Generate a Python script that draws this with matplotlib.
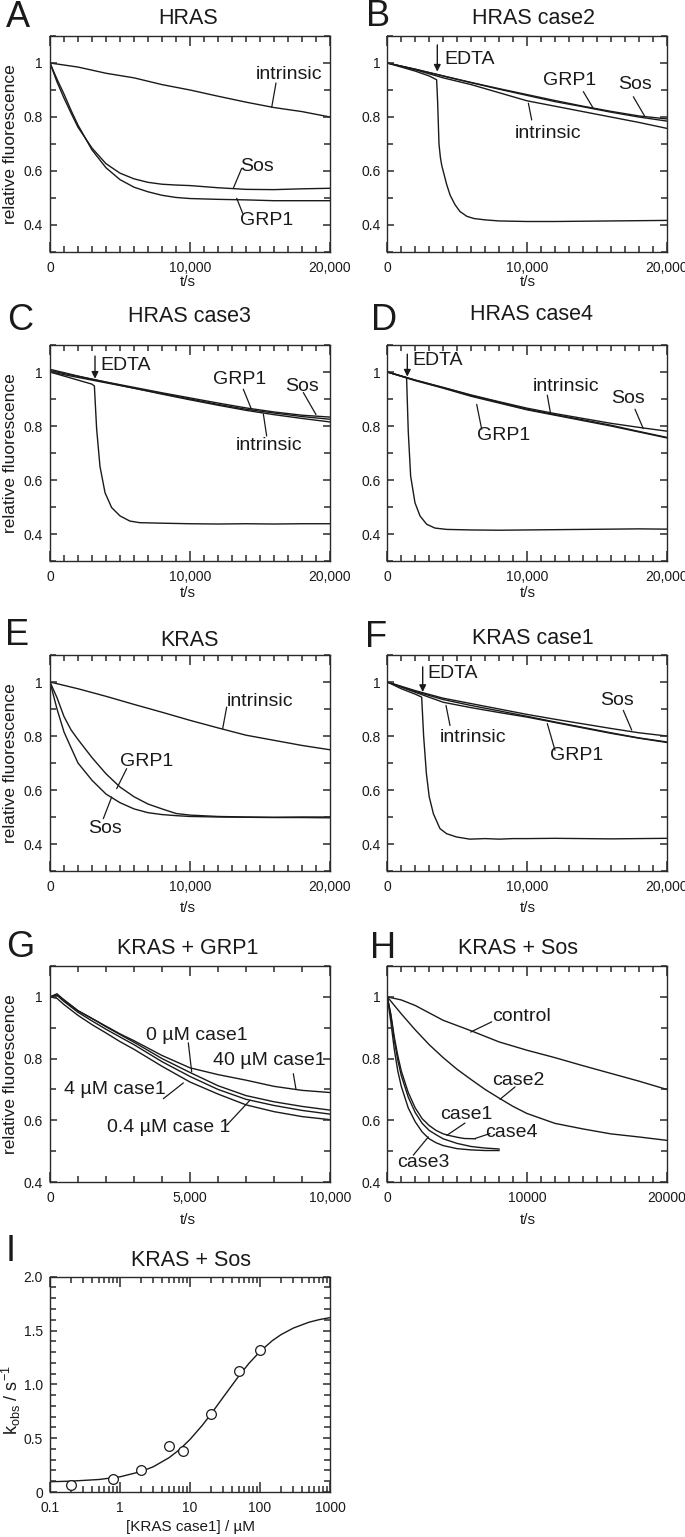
import matplotlib
matplotlib.use("Agg")
import matplotlib.pyplot as plt
from matplotlib.ticker import MultipleLocator, FixedLocator, FuncFormatter, LogLocator, NullFormatter

plt.rcParams['font.family'] = ['Liberation Sans', 'DejaVu Sans']
plt.rcParams['mathtext.fontset'] = 'custom'
plt.rcParams['mathtext.rm'] = 'Liberation Sans'
plt.rcParams['mathtext.it'] = 'Liberation Sans:italic'

# ---------------- data ----------------
t_slow = [0, 2000, 4000, 6000, 8000, 10000, 12000, 14000, 16000, 18000, 20000]
t_fast = [0, 500, 1000, 1500, 2000, 3000, 4000, 5000, 6000, 7000, 8000, 9000,
          10000, 12000, 14000, 16000, 18000, 20000]

# A  HRAS
a_intrinsic = [1.0, 0.985, 0.962, 0.945, 0.92, 0.9, 0.877, 0.855, 0.835, 0.82, 0.80]
a_sos = [1.0, 0.93, 0.87, 0.815, 0.762, 0.685, 0.627, 0.592, 0.571, 0.558, 0.551, 0.548,
         0.546, 0.538, 0.532, 0.531, 0.534, 0.536]
a_grp1 = [1.0, 0.94, 0.885, 0.825, 0.77, 0.678, 0.612, 0.568, 0.54, 0.523, 0.51, 0.502,
          0.498, 0.495, 0.493, 0.49, 0.49, 0.49]

# B  HRAS case2
b_sos = [1.0, 0.977, 0.952, 0.928, 0.905, 0.883, 0.861, 0.84, 0.821, 0.804, 0.793]
b_grp1 = [1.0, 0.977, 0.952, 0.927, 0.903, 0.88, 0.857, 0.838, 0.818, 0.80, 0.785]
b_intrinsic = [1.0, 0.975, 0.945, 0.92, 0.89, 0.86, 0.84, 0.82, 0.80, 0.78, 0.758]
b_edta_t = [0, 1000, 2000, 3000, 3530, 3600, 3700, 3800, 3900, 4000, 4250, 4500, 4850,
            5200, 5700, 6200, 7000, 8000, 10000, 12000, 14000, 16000, 18000, 20000]
b_edta = [1.0, 0.985, 0.97, 0.952, 0.938, 0.86, 0.70, 0.65, 0.62, 0.60, 0.55, 0.51, 0.475,
          0.45, 0.432, 0.424, 0.419, 0.415, 0.413, 0.413, 0.414, 0.415, 0.416, 0.417]

# C  HRAS case3
c_sos = [1.005, 0.984, 0.963, 0.943, 0.923, 0.904, 0.885, 0.867, 0.852, 0.84, 0.833]
c_grp1 = [1.0, 0.98, 0.96, 0.94, 0.92, 0.9, 0.88, 0.862, 0.848, 0.835, 0.825]
c_intrinsic = [1.01, 0.985, 0.962, 0.94, 0.918, 0.897, 0.877, 0.858, 0.842, 0.828, 0.815]
c_edta_t = [0, 1000, 2000, 3000, 3170, 3330, 3570, 3930, 4400, 5000, 5700, 6400, 8000,
            10000, 12000, 14000, 16000, 18000, 20000]
c_edta = [1.0, 0.985, 0.97, 0.955, 0.948, 0.79, 0.65, 0.553, 0.498, 0.467, 0.448, 0.442,
          0.44, 0.438, 0.437, 0.438, 0.437, 0.438, 0.438]

# D  HRAS case4
d_sos = [1.0, 0.97, 0.943, 0.915, 0.89, 0.866, 0.846, 0.828, 0.81, 0.795, 0.781]
d_grp1 = [1.0, 0.968, 0.94, 0.91, 0.885, 0.86, 0.84, 0.82, 0.80, 0.778, 0.756]
d_intrinsic = [1.0, 0.97, 0.942, 0.913, 0.888, 0.862, 0.842, 0.823, 0.803, 0.78, 0.758]
d_edta_t = [0, 700, 1380, 1500, 1670, 1980, 2340, 2820, 3410, 4250, 6000, 8000, 10000,
            12000, 14000, 16000, 18000, 20000]
d_edta = [1.0, 0.99, 0.979, 0.78, 0.615, 0.516, 0.467, 0.436, 0.422, 0.417, 0.415,
          0.414, 0.415, 0.416, 0.417, 0.418, 0.419, 0.418]

# E  KRAS
e_intrinsic = [1.0, 0.975, 0.947, 0.917, 0.888, 0.858, 0.83, 0.803, 0.784, 0.765, 0.749]
e_grp1 = [1.0, 0.942, 0.872, 0.823, 0.787, 0.72, 0.66, 0.611, 0.575, 0.548, 0.53, 0.513,
          0.507, 0.502, 0.50, 0.499, 0.50, 0.50]
e_sos = [1.0, 0.90, 0.815, 0.757, 0.70, 0.636, 0.585, 0.553, 0.53, 0.516, 0.509, 0.505,
         0.502, 0.50, 0.499, 0.498, 0.498, 0.497]

# F  KRAS case1
f_sos = [1.0, 0.968, 0.94, 0.92, 0.90, 0.88, 0.862, 0.845, 0.828, 0.812, 0.80]
f_grp1 = [1.0, 0.965, 0.935, 0.913, 0.893, 0.873, 0.852, 0.832, 0.812, 0.793, 0.778]
f_intrinsic = [1.0, 0.962, 0.925, 0.905, 0.887, 0.87, 0.85, 0.83, 0.81, 0.792, 0.776]
f_edta_t = [0, 1000, 2000, 2460, 2600, 2800, 3000, 3300, 3770, 4250, 4960, 5900, 7000,
            8000, 9000, 10000, 12000, 14000, 16000, 18000, 20000]
f_edta = [1.0, 0.975, 0.955, 0.944, 0.80, 0.66, 0.575, 0.512, 0.457, 0.438, 0.426, 0.418,
          0.42, 0.418, 0.42, 0.42, 0.421, 0.42, 0.419, 0.42, 0.421]

# G  KRAS + GRP1
g_t = [0, 250, 500, 1000, 1500, 2000, 2500, 3000, 4000, 5000, 6000, 7000, 8000, 9000, 10000]
g_0uM = [1.0, 1.01, 0.99, 0.955, 0.93, 0.903, 0.878, 0.853, 0.80, 0.755, 0.712, 0.68,
         0.66, 0.645, 0.633]
g_04uM = [1.0, 1.005, 0.985, 0.95, 0.922, 0.895, 0.87, 0.845, 0.79, 0.742, 0.70, 0.668,
          0.648, 0.632, 0.62]
g_4uM = [1.0, 0.995, 0.975, 0.94, 0.91, 0.883, 0.855, 0.83, 0.775, 0.724, 0.685, 0.65,
         0.628, 0.612, 0.602]
g_40uM = [1.0, 1.005, 0.99, 0.955, 0.93, 0.905, 0.88, 0.858, 0.81, 0.77, 0.748, 0.73,
          0.71, 0.697, 0.69]

# H  KRAS + Sos
h_control_t = [0, 1000, 2000, 4000, 6000, 8000, 10000, 12000, 14000, 16000, 18000, 20000]
h_control = [1.0, 0.99, 0.972, 0.924, 0.89, 0.854, 0.827, 0.803, 0.777, 0.752, 0.727, 0.70]
h_case2_t = [0, 1000, 2000, 3000, 4000, 5000, 6000, 7000, 8000, 9000, 10000, 12000, 14000,
             16000, 18000, 20000]
h_case2 = [1.0, 0.945, 0.893, 0.845, 0.803, 0.765, 0.732, 0.70, 0.672, 0.645, 0.622, 0.59,
           0.572, 0.556, 0.546, 0.535]
h_fast_t = [0, 250, 500, 750, 1000, 1500, 2000, 2500, 3000, 3500, 4000, 5000, 6000, 7000, 8000]
h_case1 = [1.0, 0.94, 0.86, 0.795, 0.745, 0.675, 0.625, 0.59, 0.567, 0.553, 0.54, 0.525,
           0.515, 0.51, 0.507]
h_case3 = [1.0, 0.92, 0.83, 0.76, 0.71, 0.64, 0.595, 0.562, 0.54, 0.527, 0.518, 0.508,
           0.504, 0.502, 0.502]
h_case4_t = [0, 250, 500, 750, 1000, 1500, 2000, 2500, 3000, 3500, 4000, 4500, 5000, 5500, 6300]
h_case4 = [1.0, 0.945, 0.87, 0.81, 0.76, 0.69, 0.64, 0.605, 0.583, 0.567, 0.556, 0.55,
           0.545, 0.541, 0.54]

# I  KRAS + Sos, kobs vs [KRAS case1]
i_conc = [0.2, 0.8, 2, 5, 8, 20, 50, 100]
i_kobs = [0.068, 0.123, 0.207, 0.429, 0.377, 0.725, 1.123, 1.315]
i_fit_conc = [0.1, 0.2, 0.5, 1, 2, 3, 5, 7, 10, 15, 20, 30, 50, 70, 100, 150, 200, 300,
              500, 700, 1000]
i_fit_kobs = [0.095, 0.101, 0.116, 0.141, 0.19, 0.235, 0.318, 0.391, 0.488, 0.62, 0.725,
              0.883, 1.079, 1.197, 1.305, 1.406, 1.462, 1.523, 1.577, 1.601, 1.62]

# ---------------- layout ----------------
W, H = 685, 1537
fig = plt.figure(figsize=(W / 100, H / 100), dpi=100)
LC = '#1a1a1a'
SC = '#2a2a2a'
TXT = '#1a1a1a'
ANN_FS = 14
TICK_FS = 10
LW = 1.0


def add_ax(left, top, w, h):
    return fig.add_axes([left / W, 1 - (top + h) / H, w / W, h / H])


def ftext(x, y, s, **kw):
    kw.setdefault('ha', 'center')
    kw.setdefault('va', 'center')
    kw.setdefault('color', TXT)
    fig.text(x / W, 1 - y / H, s, **kw)


def style_common(ax):
    for sp in ax.spines.values():
        sp.set_color(SC)
        sp.set_linewidth(1.0)
        sp.set_zorder(5)
    ax.xaxis.set_tick_params(which='both', direction='in', top=True, bottom=True,
                             color=SC, labelcolor=TXT, width=1.1)
    ax.yaxis.set_tick_params(which='both', direction='in', left=True, right=True,
                             color=SC, labelcolor=TXT, width=1.1)
    ax.xaxis.set_tick_params(which='major', length=7, pad=6.5, labelsize=TICK_FS)
    ax.xaxis.set_tick_params(which='minor', length=4.2)
    ax.yaxis.set_tick_params(which='major', length=5, pad=5, labelsize=TICK_FS)
    ax.yaxis.set_tick_params(which='minor', length=4.2)
    ax.set_axisbelow(False)
    for t in ax.xaxis.get_major_ticks() + ax.xaxis.get_minor_ticks() + \
            ax.yaxis.get_major_ticks() + ax.yaxis.get_minor_ticks():
        t.tick1line.set_zorder(6)
        t.tick2line.set_zorder(6)


def time_axis(ax, xmax, xmajor, xlabels, ymin):
    ax.set_xlim(0, xmax)
    ax.set_ylim(ymin, 1.1)
    ax.set_xticks(xmajor)
    ax.set_xticklabels(xlabels)
    ax.xaxis.set_minor_locator(MultipleLocator(1000))
    ax.yaxis.set_major_locator(FixedLocator([0.4, 0.6, 0.8, 1.0]))
    ax.yaxis.set_minor_locator(MultipleLocator(0.1))
    ax.yaxis.set_major_formatter(FuncFormatter(lambda v, p: '1' if abs(v - 1) < 1e-9 else f'{v:.1f}'))
    style_common(ax)


def label(ax, s, txy, start, end):
    ax.text(txy[0], txy[1], s, ha='center', va='center', fontsize=ANN_FS, color=TXT)
    ax.annotate('', xy=end, xytext=start,
                arrowprops=dict(arrowstyle='-', color=LC, lw=0.9, shrinkA=0, shrinkB=0))


def edta(ax, txt_xy, t_arrow, v_top, v_bot):
    ax.text(txt_xy[0], txt_xy[1], 'EDTA', ha='left', va='center', fontsize=ANN_FS, color=TXT)
    ax.annotate('', xy=(t_arrow, v_bot), xytext=(t_arrow, v_top),
                arrowprops=dict(arrowstyle='-|>', color=LC, lw=1.0, shrinkA=0, shrinkB=0,
                                mutation_scale=10))


def line(ax, x, y):
    ax.plot(x, y, color=LC, lw=LW, solid_joinstyle='round')


L, R = 50, 387.3
WL, WR = 280, 279.4
AH = 216
TOPS = [36, 345, 655, 966, 1276.7]

t20_ticks = [0, 10000, 20000]
t20_labels = ['0', '10,000', '20,000']

# ---- A
ax = add_ax(L, TOPS[0], WL, AH)
line(ax, t_slow, a_intrinsic)
line(ax, t_fast, a_sos)
line(ax, t_fast, a_grp1)
time_axis(ax, 20000, t20_ticks, t20_labels, 0.3)
label(ax, 'intrinsic', (17071, 0.959), (16143, 0.926), (15836, 0.836))
label(ax, 'Sos', (14764, 0.616), (13693, 0.610), (13093, 0.536))
label(ax, 'GRP1', (15479, 0.418), (13764, 0.443), (13336, 0.499))

# ---- B
ax = add_ax(R, TOPS[0], WR, AH)
line(ax, t_slow, b_sos)
line(ax, t_slow, b_grp1)
line(ax, t_slow, b_intrinsic)
line(ax, b_edta_t, b_edta)
time_axis(ax, 20000, t20_ticks, t20_labels, 0.3)
edta(ax, (4058, 1.014), 3579, 1.067, 0.968)
label(ax, 'GRP1', (13078, 0.937), (14031, 0.894), (14747, 0.832))
label(ax, 'Sos', (17731, 0.919), (17611, 0.875), (18447, 0.801))
label(ax, 'intrinsic', (11527, 0.740), (10337, 0.789), (10098, 0.851))

# ---- C
ax = add_ax(L, TOPS[1], WL, AH)
line(ax, t_slow, c_sos)
line(ax, t_slow, c_grp1)
line(ax, t_slow, c_intrinsic)
line(ax, c_edta_t, c_edta)
time_axis(ax, 20000, t20_ticks, t20_labels, 0.3)
edta(ax, (3571, 1.025), 3214, 1.059, 0.975)
label(ax, 'GRP1', (13571, 0.973), (13810, 0.936), (14405, 0.860))
label(ax, 'Sos', (17976, 0.948), (18095, 0.924), (19000, 0.842))
label(ax, 'intrinsic', (15667, 0.726), (15476, 0.763), (15238, 0.845))

# ---- D
ax = add_ax(R, TOPS[1], WR, AH)
line(ax, t_slow, d_sos)
line(ax, t_slow, d_grp1)
line(ax, t_slow, d_intrinsic)
line(ax, d_edta_t, d_edta)
time_axis(ax, 20000, t20_ticks, t20_labels, 0.3)
edta(ax, (1818, 1.041), 1432, 1.066, 0.983)
label(ax, 'intrinsic', (12792, 0.948), (11453, 0.914), (11696, 0.843))
label(ax, 'Sos', (17252, 0.903), (17731, 0.862), (18325, 0.790))
label(ax, 'GRP1', (8304, 0.763), (6757, 0.788), (6399, 0.880))

# ---- E
ax = add_ax(L, TOPS[2], WL, AH)
line(ax, t_slow, e_intrinsic)
line(ax, t_fast, e_grp1)
line(ax, t_fast, e_sos)
time_axis(ax, 20000, t20_ticks, t20_labels, 0.3)
label(ax, 'intrinsic', (15000, 0.926), (12619, 0.907), (12333, 0.827))
label(ax, 'GRP1', (6905, 0.704), (5476, 0.679), (4762, 0.605))
label(ax, 'Sos', (3929, 0.457), (3810, 0.494), (4405, 0.574))

# ---- F
ax = add_ax(R, TOPS[2], WR, AH)
line(ax, t_slow, f_sos)
line(ax, t_slow, f_grp1)
line(ax, t_slow, f_intrinsic)
line(ax, f_edta_t, f_edta)
time_axis(ax, 20000, t20_ticks, t20_labels, 0.3)
edta(ax, (2863, 1.031), 2534, 1.056, 0.963)
label(ax, 'Sos', (16421, 0.932), (16893, 0.895), (17495, 0.822))
label(ax, 'intrinsic', (6156, 0.796), (4488, 0.839), (4202, 0.913))
label(ax, 'GRP1', (13557, 0.728), (12004, 0.747), (11453, 0.846))

# ---- G
ax = add_ax(L, TOPS[3], WL, AH)
line(ax, g_t, g_0uM)
line(ax, g_t, g_04uM)
line(ax, g_t, g_4uM)
line(ax, g_t, g_40uM)
time_axis(ax, 10000, [0, 5000, 10000], ['0', '5,000', '10,000'], 0.4)
label(ax, '0 µM case1', (5238, 0.876), (4940, 0.851), (5060, 0.757))
label(ax, '40 µM case1', (7833, 0.795), (8690, 0.751), (8786, 0.700))
label(ax, '4 µM case1', (2321, 0.700), (4048, 0.670), (4762, 0.721))
label(ax, '0.4 µM case 1', (4226, 0.578), (6310, 0.584), (7143, 0.665))

# ---- H
ax = add_ax(R, TOPS[3], WR, AH)
line(ax, h_control_t, h_control)
line(ax, h_case2_t, h_case2)
line(ax, h_fast_t, h_case1)
line(ax, h_fast_t, h_case3)
line(ax, h_case4_t, h_case4)
time_axis(ax, 20000, t20_ticks, ['0', '10000', '20000'], 0.4)
label(ax, 'control', (9620, 0.937), (7473, 0.919), (5970, 0.886))
label(ax, 'case2', (9380, 0.730), (9141, 0.708), (8067, 0.668))
label(ax, 'case1', (5683, 0.618), (5562, 0.591), (4252, 0.551))
label(ax, 'case4', (8903, 0.562), (7351, 0.557), (6278, 0.541))
label(ax, 'case3', (2577, 0.462), (1861, 0.487), (2935, 0.546))

# ---- I
ax = add_ax(L, TOPS[4], WL, 215.3)
ax.plot(i_fit_conc, i_fit_kobs, color=LC, lw=LW)
ax.plot(i_conc, i_kobs, 'o', ms=7, mfc='white', mec=LC, mew=0.9, zorder=3)
ax.set_xscale('log')
ax.set_xlim(0.1, 1000)
ax.set_ylim(0, 2.0)
ax.xaxis.set_major_locator(FixedLocator([0.1, 1, 10, 100, 1000]))
ax.xaxis.set_major_formatter(FuncFormatter(lambda v, p: f'{v:g}'))
ax.xaxis.set_minor_locator(LogLocator(base=10, subs=range(2, 10), numticks=20))
ax.xaxis.set_minor_formatter(NullFormatter())
ax.yaxis.set_major_locator(FixedLocator([0, 0.5, 1.0, 1.5, 2.0]))
ax.yaxis.set_minor_locator(MultipleLocator(0.1))
ax.yaxis.set_major_formatter(FuncFormatter(lambda v, p: '0' if abs(v) < 1e-9 else f'{v:.1f}'))
style_common(ax)
ax.xaxis.set_tick_params(which='major', length=7.5)

# ---------------- figure texts ----------------
letters = [('A', 18, 17.5), ('B', 378, 16), ('C', 20, 320.7), ('D', 384, 320.7),
           ('E', 17.5, 635.7), ('F', 375.7, 637.3), ('G', 20, 947.3), ('H', 383.3, 948.3),
           ('I', 10.7, 1251.7)]
for s, x, y in letters:
    ftext(x, y, s, fontsize=26)

titles = [('HRAS', 188, 18.5), ('HRAS case2', 534, 18.3), ('HRAS case3', 189, 316.7),
          ('HRAS case4', 531.7, 315), ('KRAS', 189, 640), ('KRAS case1', 533.3, 638.3),
          ('KRAS + GRP1', 188, 948.3), ('KRAS + Sos', 518.3, 948.3), ('KRAS + Sos', 190.7, 1260)]
for s, x, y in titles:
    ftext(x, y, s, fontsize=15.5)

xlabels = [(188, 282), (528.3, 281.7), (188, 593), (528.3, 593.3), (188, 908),
           (528.3, 908.3), (188.3, 1220), (528.3, 1220)]
for x, y in xlabels:
    ftext(x, y, 't/s', fontsize=11)
ftext(190.7, 1526.7, '[KRAS case1] / µM', fontsize=11)

for yc in [144, 453, 763, 1074]:
    ftext(11, yc, 'relative fluorescence', fontsize=12.5, rotation=90)
ftext(11, 1400, r'k$_\mathregular{obs}$ / s$^\mathregular{-1}$', fontsize=13, rotation=90)

fig.savefig('out.png', dpi=100, facecolor='white')
